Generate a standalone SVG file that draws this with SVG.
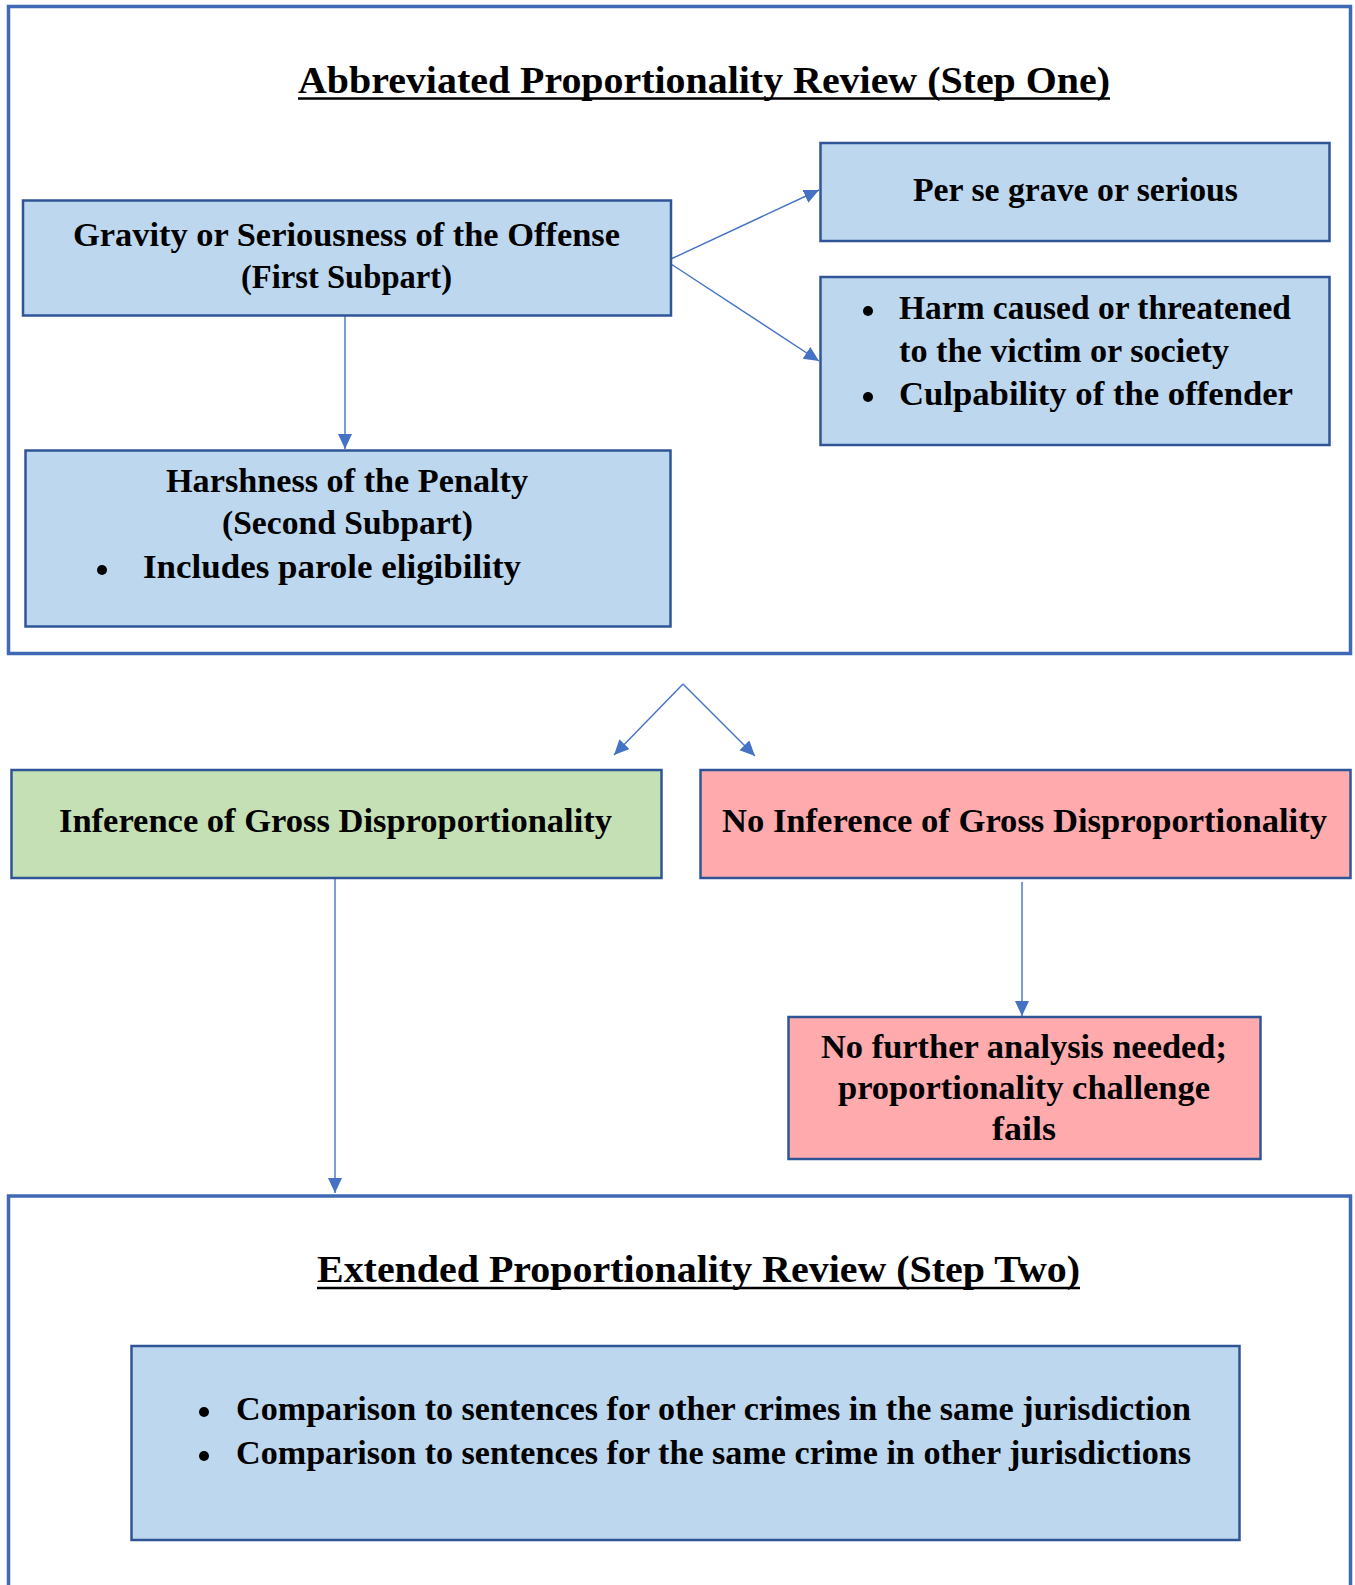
<svg xmlns="http://www.w3.org/2000/svg" width="1355" height="1585" viewBox="0 0 1355 1585">
<style>
.frame{fill:#FFFFFF;stroke:#4069B5;stroke-width:3.5}
.box{stroke:#2F5597;stroke-width:2.5}
.blue{fill:#BDD7EE}
.green{fill:#C5E0B4}
.red{fill:#FFABAD}
.t{font-family:"Liberation Serif","Times New Roman",serif;font-weight:bold;font-size:33.5px;fill:#000000}
.title{font-family:"Liberation Serif","Times New Roman",serif;font-weight:bold;font-size:38.5px;fill:#000000}
.ul{stroke:#000000;stroke-width:2.5}
.conn{fill:none;stroke:#4472C4;stroke-width:1.4}
.dot{fill:#000000}
</style>
<defs>
<marker id="ah" markerUnits="userSpaceOnUse" markerWidth="17" markerHeight="15" refX="15" refY="7" orient="auto">
<path d="M0,0 L15,7 L0,14 z" fill="#4472C4"/>
</marker>
</defs>
<rect width="1355" height="1585" fill="#FFFFFF"/>

<g id="step-one-frame">
<rect class="frame" x="8.5" y="6.5" width="1342" height="647"/>
<text class="title" x="298" y="93" textLength="812" lengthAdjust="spacingAndGlyphs">Abbreviated Proportionality Review (Step One)</text>
<line class="ul" x1="298" y1="98.5" x2="1110" y2="98.5"/>
</g>

<g id="step-two-frame">
<rect class="frame" x="8.5" y="1196" width="1342" height="400"/>
<text class="title" x="317" y="1282" textLength="763" lengthAdjust="spacingAndGlyphs">Extended Proportionality Review (Step Two)</text>
<line class="ul" x1="317" y1="1288" x2="1080" y2="1288"/>
</g>

<g id="connectors">
<line class="conn" x1="345" y1="316" x2="345" y2="449" marker-end="url(#ah)"/>
<line class="conn" x1="671" y1="259" x2="819" y2="190" marker-end="url(#ah)"/>
<line class="conn" x1="671" y1="264" x2="819" y2="361" marker-end="url(#ah)"/>
<line class="conn" x1="683" y1="684" x2="614" y2="755" marker-end="url(#ah)"/>
<line class="conn" x1="683" y1="684" x2="755" y2="756" marker-end="url(#ah)"/>
<line class="conn" x1="1022" y1="882" x2="1022" y2="1016" marker-end="url(#ah)"/>
<line class="conn" x1="335" y1="878" x2="335" y2="1193" marker-end="url(#ah)"/>
</g>

<g id="gravity">
<rect class="box blue" x="23" y="200.5" width="648" height="115"/>
<text class="t" x="73" y="246" textLength="547" lengthAdjust="spacingAndGlyphs">Gravity or Seriousness of the Offense</text>
<text class="t" x="241" y="288" textLength="211" lengthAdjust="spacingAndGlyphs">(First Subpart)</text>
</g>

<g id="per-se">
<rect class="box blue" x="820.5" y="143" width="509" height="98"/>
<text class="t" x="913" y="201" textLength="325" lengthAdjust="spacingAndGlyphs">Per se grave or serious</text>
</g>

<g id="harm">
<rect class="box blue" x="820.5" y="277" width="509" height="168"/>
<circle class="dot" cx="868" cy="311" r="5"/>
<text class="t" x="899" y="319" textLength="392" lengthAdjust="spacingAndGlyphs">Harm caused or threatened</text>
<text class="t" x="899" y="362" textLength="330" lengthAdjust="spacingAndGlyphs">to the victim or society</text>
<circle class="dot" cx="868" cy="397" r="5"/>
<text class="t" x="899" y="405" textLength="394" lengthAdjust="spacingAndGlyphs">Culpability of the offender</text>
</g>

<g id="harshness">
<rect class="box blue" x="25.5" y="450.5" width="645" height="176"/>
<text class="t" x="166" y="492" textLength="362" lengthAdjust="spacingAndGlyphs">Harshness of the Penalty</text>
<text class="t" x="222" y="534" textLength="251" lengthAdjust="spacingAndGlyphs">(Second Subpart)</text>
<circle class="dot" cx="102" cy="570" r="5"/>
<text class="t" x="143" y="578" textLength="378" lengthAdjust="spacingAndGlyphs">Includes parole eligibility</text>
</g>

<g id="inference">
<rect class="box green" x="11.5" y="770" width="650" height="108"/>
<text class="t" x="59" y="832" textLength="553" lengthAdjust="spacingAndGlyphs">Inference of Gross Disproportionality</text>
</g>

<g id="no-inference">
<rect class="box red" x="700.5" y="770" width="650" height="108"/>
<text class="t" x="722" y="832" textLength="605" lengthAdjust="spacingAndGlyphs">No Inference of Gross Disproportionality</text>
</g>

<g id="no-further">
<rect class="box red" x="788.5" y="1017" width="472" height="142"/>
<text class="t" x="821" y="1058" textLength="406" lengthAdjust="spacingAndGlyphs">No further analysis needed;</text>
<text class="t" x="838" y="1099" textLength="372" lengthAdjust="spacingAndGlyphs">proportionality challenge</text>
<text class="t" x="992" y="1140" textLength="64" lengthAdjust="spacingAndGlyphs">fails</text>
</g>

<g id="comparisons">
<rect class="box blue" x="131.5" y="1346" width="1108" height="194"/>
<circle class="dot" cx="204" cy="1412" r="5"/>
<text class="t" x="236" y="1420" textLength="955" lengthAdjust="spacingAndGlyphs">Comparison to sentences for other crimes in the same jurisdiction</text>
<circle class="dot" cx="204" cy="1456" r="5"/>
<text class="t" x="236" y="1464" textLength="955" lengthAdjust="spacingAndGlyphs">Comparison to sentences for the same crime in other jurisdictions</text>
</g>
</svg>
